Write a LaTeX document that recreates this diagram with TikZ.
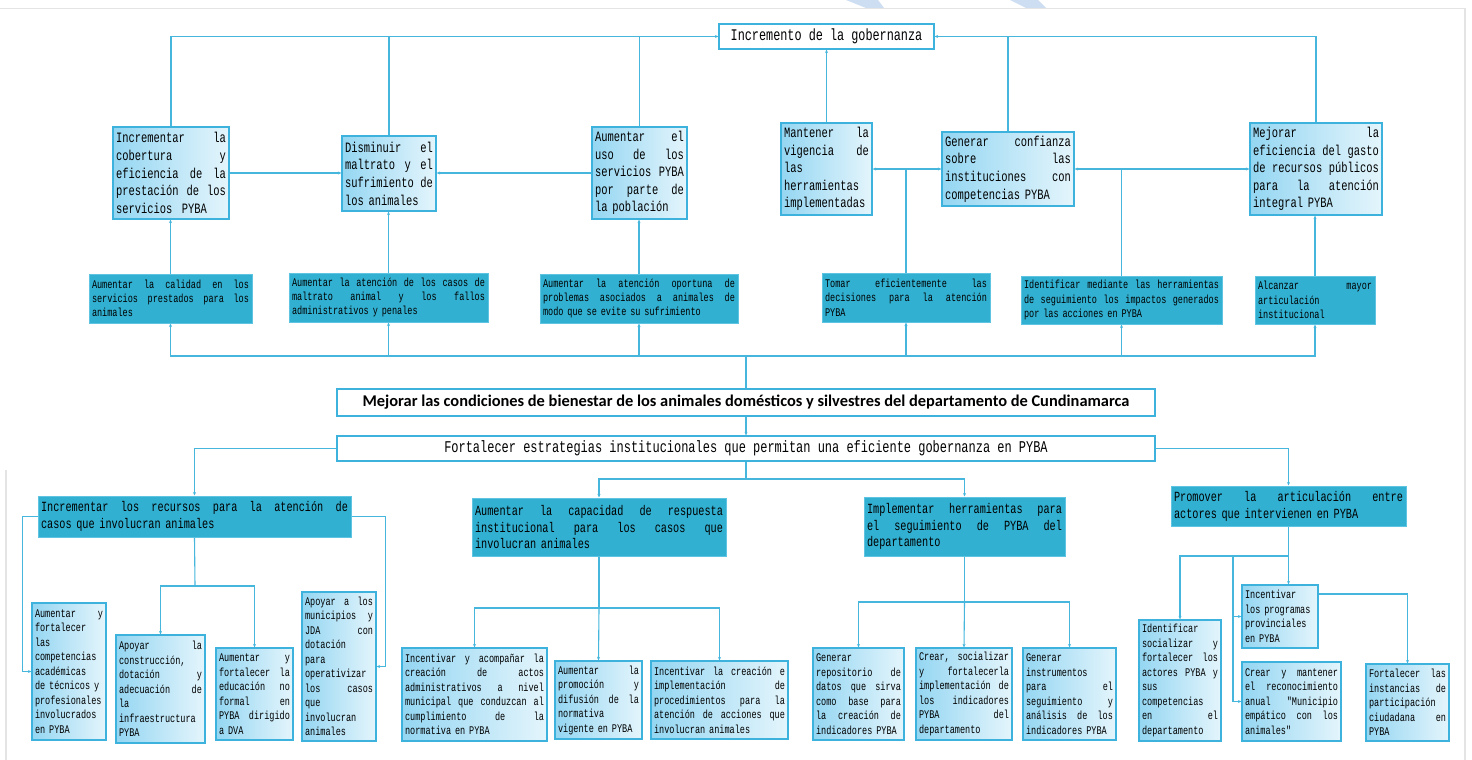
\documentclass[tikz,border=0pt]{standalone}
\usepackage{fontspec}
\usetikzlibrary{arrows.meta}
\newfontfamily\monof[FakeStretch=0.73]{Liberation Mono}
\newfontfamily\carl{Carlito}
\definecolor{lnC}{RGB}{70,182,220}
\definecolor{bdC}{RGB}{60,178,220}
\definecolor{darkF}{RGB}{49,176,209}
\definecolor{darkB}{RGB}{95,196,226}
\definecolor{gradL}{RGB}{148,214,242}
\definecolor{gradR}{RGB}{228,245,252}
\definecolor{frameC}{RGB}{228,228,228}
\definecolor{wmC}{RGB}{205,222,242}
\newcommand\jl[1]{\noindent\hbox to\hsize{\spaceskip=\fontdimen2\font plus 1fil\relax#1}\par}
\newcommand\pl[1]{\noindent\hbox{#1}\par}
\newcommand\BOX[7]{%
 \pgfmathsetmacro\bw{#5-#3}\pgfmathsetmacro\bh{#6-#4}\pgfmathsetmacro\tw{#5-#3-6}%
 \node[#1, minimum width=\bw pt, minimum height=\bh pt, text width=\tw pt] (#2) at ({(#3+#5)/2},{(#4+#6)/2}) {\parindent=0pt\parskip=0pt\relax#7};}
\tikzset{
 ln/.style={draw=lnC, line width=1.1pt},
 arr/.style={ln, -{Stealth[length=3.5pt,width=3pt]}},
 gbox/.style={draw=bdC, line width=1.2pt, left color=gradL, right color=gradR, inner xsep=3pt, inner ysep=0pt, align=left},
 dbox/.style={draw=darkB, line width=1pt, fill=darkF, inner xsep=3pt, inner ysep=0pt, align=left},
 wbox/.style={draw=bdC, line width=1.2pt, fill=white, inner sep=0pt},
 tfont/.style={font=\monof\fontsize{14.3}{17.6}\selectfont},
 sfont/.style={font=\monof\fontsize{11.7}{14.3}\selectfont},
 mfont/.style={font=\monof\fontsize{14}{16.8}\selectfont},
 lfont/.style={font=\monof\fontsize{11.7}{14.5}\selectfont},
}
\begin{document}
\begin{tikzpicture}[x=1pt,y={(0pt,-1pt)}]
\useasboundingbox (0,0) rectangle (1472,760);
\fill[white] (0,0) rectangle (1472,760);
% frame and watermark
\fill[wmC] (846,0) -- (878,0) -- (884,8) -- (866,8) -- cycle;
\fill[wmC] (1010,0) -- (1038,0) -- (1046,8) -- (1026,8) -- cycle;
\draw[frameC, line width=1.5pt] (0,8.5) -- (1465,8.5) -- (1465,760);
\draw[frameC, line width=1.5pt] (6,470) -- (6,760);

% ---------- top level ----------
\node[wbox, minimum width=215pt, minimum height=25pt, font=\monof\fontsize{16.2}{18}\selectfont] (inc) at (826.5,36.5) {Incremento de la gobernanza};

\BOX{gbox,tfont}{t1}{113}{127}{229}{219}{\jl{Incrementar la}\jl{cobertura y}\jl{eficiencia de la}\jl{prestación de los}\pl{servicios\ \ PYBA}}
\BOX{gbox,tfont}{t2}{342}{136}{436}{211}{\jl{Disminuir el}\jl{maltrato y el}\jl{sufrimiento de}\pl{los animales}}
\BOX{gbox,tfont}{t3}{592}{127}{687}{219}{\jl{Aumentar el}\jl{uso de los}\jl{servicios PYBA}\jl{por parte de}\pl{la población}}
\BOX{gbox,tfont}{t4}{781}{123}{872}{215}{\jl{Mantener la}\jl{vigencia de}\pl{las}\pl{herramientas}\pl{implementadas}}
\BOX{gbox,tfont}{t5}{942}{132}{1074}{206}{\jl{Generar confianza}\jl{sobre las}\jl{instituciones con}\pl{competencias PYBA}}
\BOX{gbox,tfont}{t6}{1250}{123}{1382}{215}{\jl{Mejorar la}\jl{eficiencia del gasto}\jl{de recursos públicos}\jl{para la atención}\pl{integral PYBA}}

\BOX{dbox,sfont}{d1}{89}{274}{252}{323}{\jl{Aumentar la calidad en los}\jl{servicios prestados para los}\pl{animales}}
\BOX{dbox,sfont}{d2}{289}{273}{488}{322}{\jl{Aumentar la atención de los casos de}\jl{maltrato animal y los fallos}\pl{administrativos y penales}}
\BOX{dbox,sfont}{d3}{540}{274}{738}{323}{\jl{Aumentar la atención oportuna de}\jl{problemas asociados a animales de}\pl{modo que se evite su sufrimiento}}
\BOX{dbox,sfont}{d4}{822}{273}{990}{322}{\jl{Tomar eficientemente las}\jl{decisiones para la atención}\pl{PYBA}}
\BOX{dbox,sfont}{d5}{1021}{276}{1222}{324}{\jl{Identificar mediante las herramientas}\jl{de seguimiento los impactos generados}\pl{por las acciones en PYBA}}
\BOX{dbox,sfont}{d6}{1255}{276}{1375}{324}{\jl{Alcanzar mayor}\pl{articulación}\pl{institucional}}

% ---------- central ----------
\node[wbox, minimum width=818pt, minimum height=27pt, font=\carl\bfseries\fontsize{16.4}{18}\selectfont] (main) at (746,402.5) {Mejorar las condiciones de bienestar de los animales domésticos y silvestres del departamento de Cundinamarca};
\node[wbox, minimum width=818pt, minimum height=25pt, font=\monof\fontsize{16.4}{18}\selectfont] (fort) at (746,448.5) {Fortalecer estrategias institucionales que permitan una eficiente gobernanza en PYBA};

% ---------- strategies ----------
\BOX{dbox,mfont}{sA}{38}{496}{351}{537}{\jl{Incrementar los recursos para la atención de}\pl{casos que involucran animales}}
\BOX{dbox,mfont}{sB}{472}{498}{726}{556}{\jl{Aumentar la capacidad de respuesta}\jl{institucional para los casos que}\pl{involucran animales}}
\BOX{dbox,mfont}{sC}{864}{497}{1065}{556}{\jl{Implementar herramientas para}\jl{el seguimiento de PYBA del}\pl{departamento}}
\BOX{dbox,mfont}{sD}{1171}{486}{1406}{526}{\jl{Promover la articulación entre}\pl{actores que intervienen en PYBA}}

% ---------- leaves ----------
\BOX{gbox,lfont}{a1}{32}{603}{106}{740}{\jl{Aumentar y}\pl{fortalecer}\pl{las}\pl{competencias}\pl{académicas}\pl{de técnicos y}\pl{profesionales}\pl{involucrados}\pl{en PYBA}}
\BOX{gbox,lfont}{a2}{116}{635}{205}{743}{\jl{Apoyar la}\pl{construcción,}\jl{dotación y}\jl{adecuación de}\pl{la}\pl{infraestructura}\pl{PYBA}}
\BOX{gbox,lfont}{a3}{216}{648}{293}{740}{\jl{Aumentar y}\jl{fortalecer la}\jl{educación no}\jl{formal en}\jl{PYBA dirigido}\pl{a DVA}}
\BOX{gbox,lfont}{a4}{302}{592}{376}{741}{\jl{Apoyar a los}\jl{municipios y}\jl{JDA con}\pl{dotación}\pl{para}\pl{operativizar}\jl{los casos}\pl{que}\pl{involucran}\pl{animales}}
\BOX{gbox,lfont}{b1}{402}{648}{547}{741}{\jl{Incentivar y acompañar la}\jl{creación de actos}\jl{administrativos a nivel}\jl{municipal que conduzcan al}\jl{cumplimiento de la}\pl{normativa en PYBA}}
\BOX{gbox,lfont}{b2}{555}{661}{642}{739}{\jl{Aumentar la}\jl{promoción y}\jl{difusión de la}\pl{normativa}\pl{vigente en PYBA}}
\BOX{gbox,lfont}{b3}{651}{661}{788}{739}{\jl{Incentivar la creación e}\jl{implementación de}\jl{procedimientos para la}\jl{atención de acciones que}\pl{involucran animales}}
\BOX{gbox,lfont}{c1}{813}{648}{904}{740}{\pl{Generar}\jl{repositorio de}\jl{datos que sirva}\jl{como base para}\jl{la creación de}\pl{indicadores PYBA}}
\BOX{gbox,lfont}{c2}{916}{648}{1012}{740}{\jl{Crear, socializar}\jl{y fortalecerla}\jl{implementación de}\jl{los indicadores}\jl{PYBA del}\pl{departamento}}
\BOX{gbox,lfont}{c3}{1023}{648}{1116}{740}{\pl{Generar}\pl{instrumentos}\jl{para el}\jl{seguimiento y}\jl{análisis de los}\pl{indicadores PYBA}}
\BOX{gbox,lfont}{e1}{1139}{620}{1221}{741}{\pl{Identificar}\jl{socializar y}\jl{fortalecer los}\jl{actores PYBA y}\pl{sus}\pl{competencias}\jl{en el}\pl{departamento}}
\BOX{gbox,lfont}{e2}{1242}{585}{1318}{648}{\pl{Incentivar}\pl{los programas}\pl{provinciales}\pl{en PYBA}}
\BOX{gbox,lfont}{e3}{1242}{662}{1341}{741}{\jl{Crear y mantener}\jl{el reconocimiento}\jl{anual "Municipio}\jl{empático con los}\pl{animales"}}
\BOX{gbox,lfont}{e4}{1366}{664}{1449}{741}{\jl{Fortalecer las}\jl{instancias de}\pl{participación}\jl{ciudadana en}\pl{PYBA}}

% ---------- connectors: top ----------
\draw[arr] (t1.north) |- (inc.west);
\draw[ln] (t2.north) -- (t2.north |- inc.west);
\draw[ln] (t3.north) -- (t3.north |- inc.west);
\draw[arr] (t6.north) |- (inc.east);
\draw[ln] (t5.north) -- (t5.north |- inc.east);
\draw[arr] (t4.north) -- (t4.north |- inc.south);
\draw[arr] (t1.east) -- (t1.east -| t2.west);
\draw[arr] (t3.west) -- (t3.west -| t2.east);
\draw[arr] (d4.north) |- (t4.east);
\draw[arr] (d4.north) |- (t5.west);
\draw[arr] (d5.north) |- (t5.east);
\draw[arr] (d5.north) |- (t6.west);
\draw[arr] (d1.north) -- (d1.north |- t1.south);
\draw[arr] (d2.north) -- (d2.north |- t2.south);
\draw[arr] (d3.north) -- (d3.north |- t3.south);
\draw[arr] (d6.north) -- (d6.north |- t6.south);

\coordinate (hub) at (746,356);
\draw[ln] (main.north) -- (hub);
\foreach \d in {d1,d2,d3,d4,d5,d6} { \draw[arr] (hub) -| (\d.south); }

% ---------- connectors: bottom ----------
\draw[arr] (main.south) -- (fort.north);
\draw[arr] (fort.west) -| (sA.north);
\coordinate (jBC) at (746,479);
\draw[ln] (fort.south) -- (jBC);
\draw[arr] (jBC) -| (sB.north);
\draw[arr] (jBC) -| (sC.north);
\draw[arr] (fort.east) -| (sD.north);

\draw[arr] (sA.west) -- ++(-15,0) |- (a1.west);
\draw[arr] (sA.east) -- ++(34,0) |- (a4.east);
\coordinate (jA) at (195,586);
\draw[ln] (sA.south) -- (jA);
\draw[arr] (jA) -| (a2.north);
\draw[arr] (jA) -| (a3.north);

\coordinate (jB) at (599,608);
\draw[ln] (sB.south) -- (jB);
\draw[arr] (jB) -| (b1.north);
\draw[arr] (jB) -- (b2.north);
\draw[arr] (jB) -| (b3.north);

\coordinate (jC) at (964.5,602);
\draw[ln] (sC.south) -- (jC);
\draw[arr] (jC) -| (c1.north);
\draw[arr] (jC) -- (c2.north);
\draw[arr] (jC) -| (c3.north);

\coordinate (jD) at (1288.5,556);
\coordinate (jD2) at (1233,556);
\draw[ln] (sD.south) -- (jD);
\draw[arr] (jD) -- (jD |- e2.north);
\draw[arr] (jD) -| (e1.north);
\draw[arr] (jD2) |- (e2.west);
\draw[arr] (jD2) |- (e3.west);
\draw[arr] ([yshift=22.5pt]e2.east) -| (e4.north);
\end{tikzpicture}
\end{document}
